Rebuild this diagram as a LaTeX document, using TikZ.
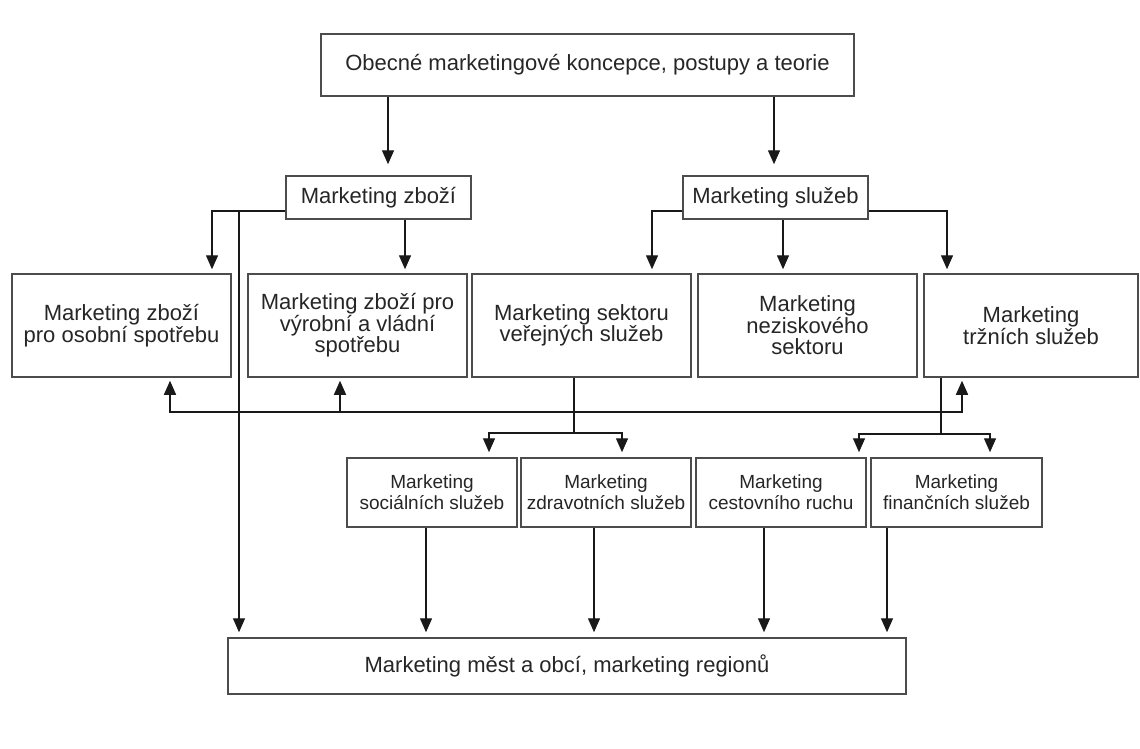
\documentclass[tikz,border=0pt]{standalone}
\usepackage{fontspec}
\setmainfont{Liberation Sans}
\usetikzlibrary{arrows.meta}
\begin{document}
\begin{tikzpicture}[x=1pt,y=-1pt,
  box/.style={draw=black!70,line width=1.5pt,inner sep=0pt,align=center,text=black!85,font=\fontsize{22}{21.5}\selectfont},
  sbox/.style={box,font=\fontsize{19}{21}\selectfont},
  conn/.style={draw=black!90,line width=1.4pt},
  arr/.style={conn,-{Triangle[length=14pt,width=12pt]}}]
\fill[white] (0,0) rectangle (1140,749);
\useasboundingbox (0,0) rectangle (1140,749);

% nodes
\node[box,minimum width=533pt,minimum height=62pt] (top) at (587.5,65) {Obecné marketingové koncepce, postupy a teorie};
\node[box,minimum width=185pt,minimum height=43pt] (zbozi) at (378.5,197.5) {Marketing zboží};
\node[box,minimum width=185pt,minimum height=43pt] (sluzeb) at (775.5,197.5) {Marketing služeb};

\node[box,minimum width=219pt,minimum height=103pt] (b1) at (121.5,325.5) {Marketing zboží\\pro osobní spotřebu};
\node[box,minimum width=219pt,minimum height=103pt] (b2) at (357.5,325.5) {Marketing zboží pro\\výrobní a vládní\\spotřebu};
\node[box,minimum width=219pt,minimum height=103pt] (b3) at (581.5,325.5) {Marketing sektoru\\veřejných služeb};
\node[box,minimum width=219pt,minimum height=103pt] (b4) at (807.5,325.5) {Marketing\\neziskového\\sektoru};
\node[box,minimum width=214pt,minimum height=103pt] (b5) at (1031,325.5) {Marketing\\tržních služeb};

\node[sbox,minimum width=170pt,minimum height=69pt] (s1) at (432,492.5) {Marketing\\sociálních služeb};
\node[sbox,minimum width=170pt,minimum height=69pt] (s2) at (606,492.5) {Marketing\\zdravotních služeb};
\node[sbox,minimum width=170pt,minimum height=69pt] (s3) at (781,492.5) {Marketing\\cestovního ruchu};
\node[sbox,minimum width=171pt,minimum height=69pt] (s4) at (956.5,492.5) {Marketing\\finančních služeb};

\node[box,minimum width=678pt,minimum height=56pt] (bottom) at (567,666) {Marketing měst a obcí, marketing regionů};

% top level
\draw[arr,shorten >=11pt] (top.south -| 388,0) -- (zbozi.north -| 388,0);
\draw[arr,shorten >=11pt] (top.south -| 774,0) -- (sluzeb.north -| 774,0);

% Marketing zbozi
\draw[arr,shorten >=4pt] (zbozi.west |- 0,211) -| (b1.north -| 212,0);
\draw[arr,shorten >=4pt] (zbozi.south -| 405,0) -- (b2.north -| 405,0);
\draw[arr,shorten >=5pt] (zbozi.west |- 0,211) -| (bottom.north -| 239,0);

% Marketing sluzeb
\draw[arr,shorten >=4pt] (sluzeb.west |- 0,211) -| (b3.north -| 652,0);
\draw[arr,shorten >=4pt] (sluzeb.south -| 783,0) -- (b4.north -| 783,0);
\draw[arr,shorten >=4pt] (sluzeb.east |- 0,211) -| (b5.north -| 947,0);

% horizontal distribution line
\coordinate (hub) at (574,412);
\draw[arr,shorten >=3pt] (hub) -| (b1.south -| 170,0);
\draw[arr,shorten >=3pt] (hub -| 340,0) -- (b2.south -| 340,0);
\draw[arr,shorten >=3pt] (hub) -| (b5.south -| 962,0);

% public sector split
\coordinate (split1) at (574,433);
\draw[conn] (b3.south -| 574,0) -- (split1);
\draw[arr,shorten >=5pt] (split1) -| (s1.north -| 489,0);
\draw[arr,shorten >=5pt] (split1) -| (s2.north -| 622,0);

% market services split
\coordinate (split2) at (941,434);
\draw[conn] (b5.south -| 941,0) -- (split2);
\draw[arr,shorten >=5pt] (split2) -| (s3.north -| 859,0);
\draw[arr,shorten >=5pt] (split2) -| (s4.north -| 990,0);

% to bottom
\draw[arr,shorten >=5pt] (s1.south -| 426,0) -- (bottom.north -| 426,0);
\draw[arr,shorten >=5pt] (s2.south -| 594,0) -- (bottom.north -| 594,0);
\draw[arr,shorten >=5pt] (s3.south -| 764,0) -- (bottom.north -| 764,0);
\draw[arr,shorten >=5pt] (s4.south -| 887,0) -- (bottom.north -| 887,0);
\end{tikzpicture}
\end{document}
